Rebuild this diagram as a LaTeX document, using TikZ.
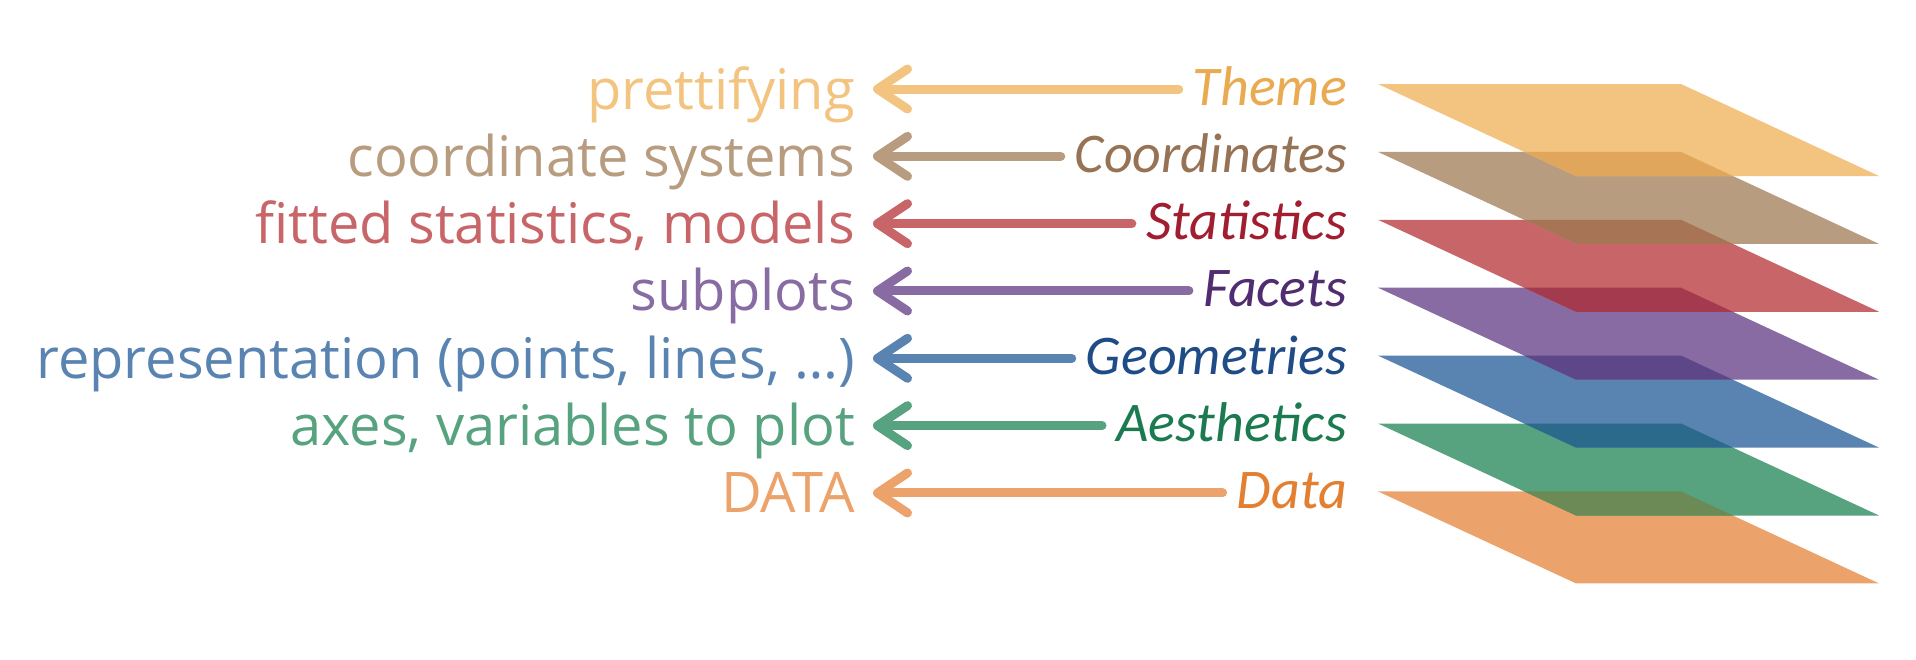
\documentclass[tikz,border=0pt]{standalone}
\usepackage{fontspec}
\newfontfamily\leftfont{Open Sans}
\newfontfamily\rightfont{Carlito}
\usetikzlibrary{arrows.meta}
% layer / label colours
\definecolor{cTheme}{RGB}{243,196,128}
\definecolor{cCoord}{RGB}{184,156,128}
\definecolor{cStats}{RGB}{200,101,104}
\definecolor{cFacets}{RGB}{135,107,162}
\definecolor{cGeom}{RGB}{89,131,177}
\definecolor{cAes}{RGB}{87,162,127}
\definecolor{cData}{RGB}{236,163,107}
% italic label colours
\definecolor{dTheme}{RGB}{234,170,82}
\definecolor{dCoord}{RGB}{151,115,86}
\definecolor{dStats}{RGB}{160,30,48}
\definecolor{dFacets}{RGB}{80,44,112}
\definecolor{dGeom}{RGB}{31,76,135}
\definecolor{dAes}{RGB}{28,122,80}
\definecolor{dData}{RGB}{226,127,49}
% overlap colours
\definecolor{oThemeCoord}{RGB}{224,167,92}
\definecolor{oCoordStats}{RGB}{167,117,85}
\definecolor{oStatsFacets}{RGB}{164,58,78}
\definecolor{oFacetsGeom}{RGB}{94,71,136}
\definecolor{oGeomAes}{RGB}{44,106,140}
\definecolor{oAesData}{RGB}{108,138,85}
\newcommand\layerpath[1]{(1378,#1) -- (1681,#1) -- (1879,#1+92) -- (1576,#1+92) -- cycle}
\begin{document}
\begin{tikzpicture}[x=1pt,y=-1pt,
  lefttxt/.style={font=\leftfont\fontsize{56}{60}\selectfont, inner sep=0pt, anchor=base east},
  righttxt/.style={font=\rightfont\itshape\fontsize{56}{60}\selectfont, inner sep=0pt, anchor=base east},
  layerarrow/.style={line width=9pt, line cap=round, shorten <=14pt,
    -{Straight Barb[length=30pt, width=40pt, round]}}]
\useasboundingbox (0,0) rectangle (1916,659);
% layers, bottom first
\foreach \i/\c in {6/cData,5/cAes,4/cGeom,3/cFacets,2/cStats,1/cCoord,0/cTheme}{
  \pgfmathsetmacro\ty{84+67.9*\i}
  \fill[\c] \layerpath{\ty};
}
% overlaps
\foreach \i/\c in {0/oThemeCoord,1/oCoordStats,2/oStatsFacets,3/oFacetsGeom,4/oGeomAes,5/oAesData}{
  \pgfmathsetmacro\ty{84+67.9*\i}
  \pgfmathsetmacro\ny{84+67.9*\i+67.9}
  \begin{scope}
    \clip \layerpath{\ty};
    \fill[\c] \layerpath{\ny};
  \end{scope}
}
% labels and arrows
\foreach \i/\n/\c/\d/\lt/\rt in {
  0/theme/cTheme/dTheme/prettifying/Theme,
  1/coord/cCoord/dCoord/coordinate systems/Coordinates,
  2/stats/cStats/dStats/{fitted statistics, models}/Statistics,
  3/facets/cFacets/dFacets/subplots/Facets,
  4/geom/cGeom/dGeom/{representation (points, lines, …)}/Geometries,
  5/aes/cAes/dAes/{axes, variables to plot}/Aesthetics,
  6/data/cData/dData/DATA/Data}{
  \pgfmathsetmacro\rowy{89+67.33*\i}
  \node[lefttxt, text=\c] (l\n) at (855,\rowy+20) {\lt};
  \node[righttxt, text=\d] (r\n) at (1347,\rowy+16) {\rt};
  \coordinate (t\n) at (873,\rowy);
  \draw[layerarrow, draw=\c] (t\n -| r\n.west) -- (t\n);
}
\end{tikzpicture}
\end{document}
